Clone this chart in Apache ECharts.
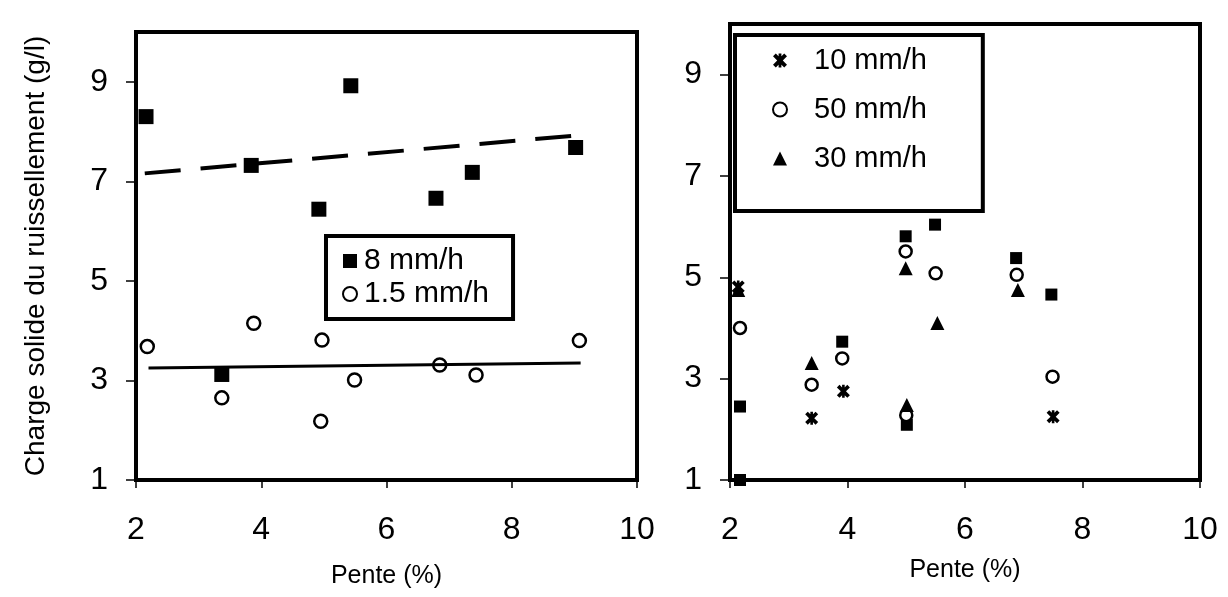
<!DOCTYPE html>
<html>
<head>
<meta charset="utf-8">
<script src="https://cdn.jsdelivr.net/npm/echarts@6/dist/echarts.min.js"></script>
<style>
  html, body { margin: 0; padding: 0; background: #fff; }
  #chart { width: 1228px; height: 597px; }
</style>
</head>
<body>
<div id="chart"></div>
<script>
// panneau gauche : 8 mm/h (carrés pleins) et 1.5 mm/h (cercles vides)
var pente8 = [2.16, 3.37, 3.84, 4.92, 5.43, 6.79, 7.37, 9.02];
var charge8 = [8.30, 3.12, 7.32, 6.44, 8.92, 6.66, 7.18, 7.68];
var pente15 = [2.18, 3.37, 3.88, 4.95, 4.97, 5.49, 6.85, 7.43, 9.08];
var charge15 = [3.68, 2.65, 4.15, 2.18, 3.81, 3.01, 3.31, 3.11, 3.80];
// droites de tendance
var tendance8X = [2.14, 9.02];
var tendance8Y = [7.16, 7.92];
var tendance15X = [2.2, 9.1];
var tendance15Y = [3.25, 3.35];

// panneau droit
var pente10 = [2.14, 3.39, 3.93, 7.50];
var charge10 = [4.81, 2.22, 2.75, 2.25];
var pente50 = [2.17, 3.39, 3.91, 4.99, 5.00, 5.50, 6.88, 7.49];
var charge50 = [4.00, 2.88, 3.40, 5.51, 2.28, 5.08, 5.05, 3.04];
var pente30 = [2.14, 3.39, 4.99, 5.01, 5.53, 6.90];
var charge30 = [4.75, 3.31, 5.18, 2.48, 4.10, 4.75];
var penteCarre = [2.17, 2.17, 3.91, 4.99, 5.01, 5.49, 6.87, 7.47];
var chargeCarre = [2.45, 1.00, 3.73, 5.81, 2.09, 6.04, 5.38, 4.66];

var xMin = 2, xMax = 10, xStep = 2;
var yMin = 1, yMax = 10, yStep = 2;

function pts (xs, ys) {
  return xs.map(function (x, i) { return [x, ys[i]] })
}

var FONT = '"Liberation Sans", Arial, sans-serif';
// astérisque : X gras + barre verticale
var asterisk = 'path://M0,2 L2,0 L5,3 L8,0 L10,2 L7,5 L10,8 L8,10 L5,7 L2,10 L0,8 L3,5 Z M4,0 L6,0 L6,10 L4,10 Z';

function xAxisOf (idx, gap) {
  return {
    gridIndex: idx,
    type: 'value',
    min: xMin, max: xMax, interval: xStep,
    name: 'Pente (%)',
    nameLocation: 'middle',
    nameGap: gap,
    nameTextStyle: { color: '#000', fontSize: 25, fontFamily: FONT },
    axisLine: { show: true, lineStyle: { color: '#000', width: 4 } },
    axisTick: { show: true, length: 8, lineStyle: { color: '#000', width: 1.5 } },
    axisLabel: { color: '#000', fontSize: 32, fontFamily: FONT, margin: 34 },
    splitLine: { show: false }
  }
}

function yAxisOf (idx, withName) {
  return {
    gridIndex: idx,
    type: 'value',
    min: yMin, max: yMax, interval: yStep,
    name: withName ? 'Charge solide du ruissellement (g/l)' : '',
    nameLocation: 'middle',
    nameGap: 86,
    nameTextStyle: { color: '#000', fontSize: 28, fontFamily: FONT },
    axisLine: { show: true, lineStyle: { color: '#000', width: 4 } },
    axisTick: { show: true, length: 10, lineStyle: { color: '#000', width: 1.5 } },
    axisLabel: { color: '#000', fontSize: 32, fontFamily: FONT, margin: 28,
      showMaxLabel: false },
    splitLine: { show: false }
  }
}

var chart = echarts.init(document.getElementById('chart'), null, { renderer: 'canvas' })

var option = {
  backgroundColor: '#fff',
  animation: false,
  grid: [
    { left: 136, top: 32, width: 501, height: 448, show: true,
      borderColor: '#000', borderWidth: 4, containLabel: false },
    { left: 730, top: 24, width: 470, height: 456, show: true,
      borderColor: '#000', borderWidth: 4, containLabel: false }
  ],
  xAxis: [xAxisOf(0, 84), xAxisOf(1, 78)],
  yAxis: [yAxisOf(0, true), yAxisOf(1, false)],
  legend: [
    {
      data: ['8 mm/h', '1.5 mm/h'],
      orient: 'vertical',
      left: 326, top: 236,
      padding: [10, 24, 10, 16],
      itemGap: 3,
      itemWidth: 14, itemHeight: 14,
      borderColor: '#000', borderWidth: 4,
      backgroundColor: '#fff',
      textStyle: { color: '#000', fontSize: 30, fontFamily: FONT,
        padding: [0, 0, 0, 2] }
    },
    {
      data: ['10 mm/h', '50 mm/h', '30 mm/h'],
      orient: 'vertical',
      left: 735, top: 35,
      padding: [11, 56, 38, 37],
      itemGap: 20,
      itemWidth: 14, itemHeight: 14,
      borderColor: '#000', borderWidth: 4,
      backgroundColor: '#fff',
      textStyle: { color: '#000', fontSize: 29, fontFamily: FONT,
        padding: [0, 0, 0, 22] }
    }
  ],
  series: [
    {
      name: '8 mm/h', type: 'scatter', xAxisIndex: 0, yAxisIndex: 0,
      symbol: 'rect', symbolSize: 15, clip: false,
      itemStyle: { color: '#000', opacity: 1 },
      data: pts(pente8, charge8)
    },
    {
      name: '1.5 mm/h', type: 'scatter', xAxisIndex: 0, yAxisIndex: 0,
      symbol: 'circle', symbolSize: 13, clip: false,
      itemStyle: { color: '#fff', borderColor: '#000', borderWidth: 2.5, opacity: 1 },
      data: pts(pente15, charge15)
    },
    {
      name: 'tendance 8 mm/h', type: 'line', xAxisIndex: 0, yAxisIndex: 0,
      symbol: 'none', silent: true,
      lineStyle: { color: '#000', width: 4, type: [36, 20] },
      data: pts(tendance8X, tendance8Y)
    },
    {
      name: 'tendance 1.5 mm/h', type: 'line', xAxisIndex: 0, yAxisIndex: 0,
      symbol: 'none', silent: true,
      lineStyle: { color: '#000', width: 3 },
      data: pts(tendance15X, tendance15Y)
    },
    {
      name: 'carrés', type: 'scatter', xAxisIndex: 1, yAxisIndex: 1,
      symbol: 'rect', symbolSize: 12, clip: false,
      itemStyle: { color: '#000', opacity: 1 },
      data: pts(penteCarre, chargeCarre)
    },
    {
      name: '10 mm/h', type: 'scatter', xAxisIndex: 1, yAxisIndex: 1,
      symbol: asterisk, symbolSize: 13, clip: false,
      itemStyle: { color: '#000', opacity: 1 },
      data: pts(pente10, charge10)
    },
    {
      name: '50 mm/h', type: 'scatter', xAxisIndex: 1, yAxisIndex: 1,
      symbol: 'circle', symbolSize: 12, clip: false,
      itemStyle: { color: '#fff', borderColor: '#000', borderWidth: 2.5, opacity: 1 },
      data: pts(pente50, charge50)
    },
    {
      name: '30 mm/h', type: 'scatter', xAxisIndex: 1, yAxisIndex: 1,
      symbol: 'triangle', symbolSize: 14, clip: false,
      itemStyle: { color: '#000', opacity: 1 },
      data: pts(pente30, charge30)
    }
  ]
}

chart.setOption(option)
</script>
</body>
</html>
